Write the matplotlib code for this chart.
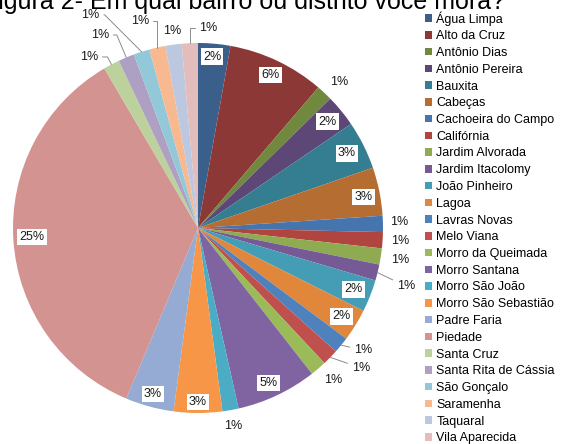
import numpy as np
import matplotlib
matplotlib.use("Agg")
import matplotlib.pyplot as plt

plt.rcParams['font.family'] = ['Liberation Sans', 'DejaVu Sans']

# ---- data ----
categories = ["Água Limpa", "Alto da Cruz", "Antônio Dias", "Antônio Pereira", "Bauxita",
              "Cabeças", "Cachoeira do Campo", "Califórnia", "Jardim Alvorada",
              "Jardim Itacolomy", "João Pinheiro", "Lagoa", "Lavras Novas", "Melo Viana",
              "Morro da Queimada", "Morro Santana", "Morro São João", "Morro São Sebastião",
              "Padre Faria", "Piedade", "Santa Cruz", "Santa Rita de Cássia", "São Gonçalo",
              "Saramenha", "Taquaral", "Vila Aparecida"]
values = [2, 6, 1, 2, 3, 3, 1, 1, 1, 1, 2, 2, 1, 1, 1, 5, 1, 3, 3, 25, 1, 1, 1, 1, 1, 1]
title = "Figura 2- Em qual bairro ou distrito você mora?"

# ---- styles ----
colors = ["#3A5F8B", "#8C3836", "#71893F", "#5C4776", "#357D91", "#B66D31",
          "#4675AD", "#B0453F", "#8EAB51", "#765A96", "#449DB5", "#E0873C",
          "#4F81BD", "#C0504D", "#9BBB59", "#8064A2", "#4BACC6", "#F79646",
          "#95ABD3", "#D39391", "#BDD19C", "#ADA0C3", "#93C8D8", "#F8B991",
          "#BCC8E0", "#E3BCBC"]
# label layout: radius fraction, clockwise angle offset (deg), inside box, leader style
lab_r = [0.93, 0.915, 1.10, 0.907, 0.90, 0.91, 1.09, 1.094, 1.105, 1.167, 0.905, 0.91,
         1.11, 1.16, 1.10, 0.92, 1.087, 0.94, 0.93, 0.90, 1.096, 1.17, 1.29, 1.16, 1.074, 1.08]
lab_dphi = [-0.4, 0, 1, 0, 0, 0.8, -0.4, 0, 0, 1.7, 0, 0, -2.8, -3.7, -1, 0.8, 0, 0, 0,
            0.7, -4.6, -4.1, -9, -3, 0, 5.4]
lab_box = [v >= 2 for v in values]
lab_leader = [None, None, None, None, None, None, None, None, None, 'straight', None, None,
              'straight', 'straight', None, None, None, None, None, None,
              'radial', 'radial', 135, 90, None, 90]

W, H = 563, 444
cx, cy, R = 198, 228, 185  # pixels (from top)

fig = plt.figure(figsize=(W / 100, H / 100), dpi=100)
ax = fig.add_axes([0, 0, 1, 1])
wedges, _ = ax.pie(values, colors=colors, startangle=90, counterclock=False,
                   radius=1, wedgeprops=dict(linewidth=0))
ax.set_aspect('auto')
ax.set_xlim(-cx / R, (W - cx) / R)
ax.set_ylim(-(H - cy) / R, cy / R)
ax.axis('off')

for i, w in enumerate(wedges):
    mid = (w.theta1 + w.theta2) / 2.0
    th = np.deg2rad(mid - lab_dphi[i])
    pos = (lab_r[i] * np.cos(th), lab_r[i] * np.sin(th))
    txt = f"{values[i]}%"
    kw = dict(ha='center', va='center', fontsize=9, color='#1a1a1a')
    if lab_box[i]:
        kw['bbox'] = dict(boxstyle='square,pad=0.18', fc='white', ec='none')
    style = lab_leader[i]
    if style is None:
        ax.text(pos[0], pos[1], txt, **kw)
    else:
        mrad = np.deg2rad(mid)
        edge = (np.cos(mrad), np.sin(mrad))
        if style == 'straight':
            cs = 'arc3,rad=0'
        elif style == 'radial':
            cs = f'angle,angleA=0,angleB={mid:.1f},rad=0'
        else:
            cs = f'angle,angleA=0,angleB={style},rad=0'
        ax.annotate(txt, xy=edge, xytext=pos, textcoords='data',
                    arrowprops=dict(arrowstyle='-', color='#8c8c8c', lw=0.7,
                                    shrinkA=1, shrinkB=0, connectionstyle=cs),
                    **kw)

leg = fig.legend(wedges, categories, loc='upper left',
                 bbox_to_anchor=(425 / W, 1 - 11 / H), frameon=False,
                 fontsize=9, handlelength=0.55, handleheight=0.55,
                 handletextpad=0.35, labelspacing=0.38, borderpad=0, borderaxespad=0)

fig.text(505 / W, 1 - 9 / H, title, ha='right', va='baseline', fontsize=18,
         color='black')

fig.savefig("out.png", dpi=100)
